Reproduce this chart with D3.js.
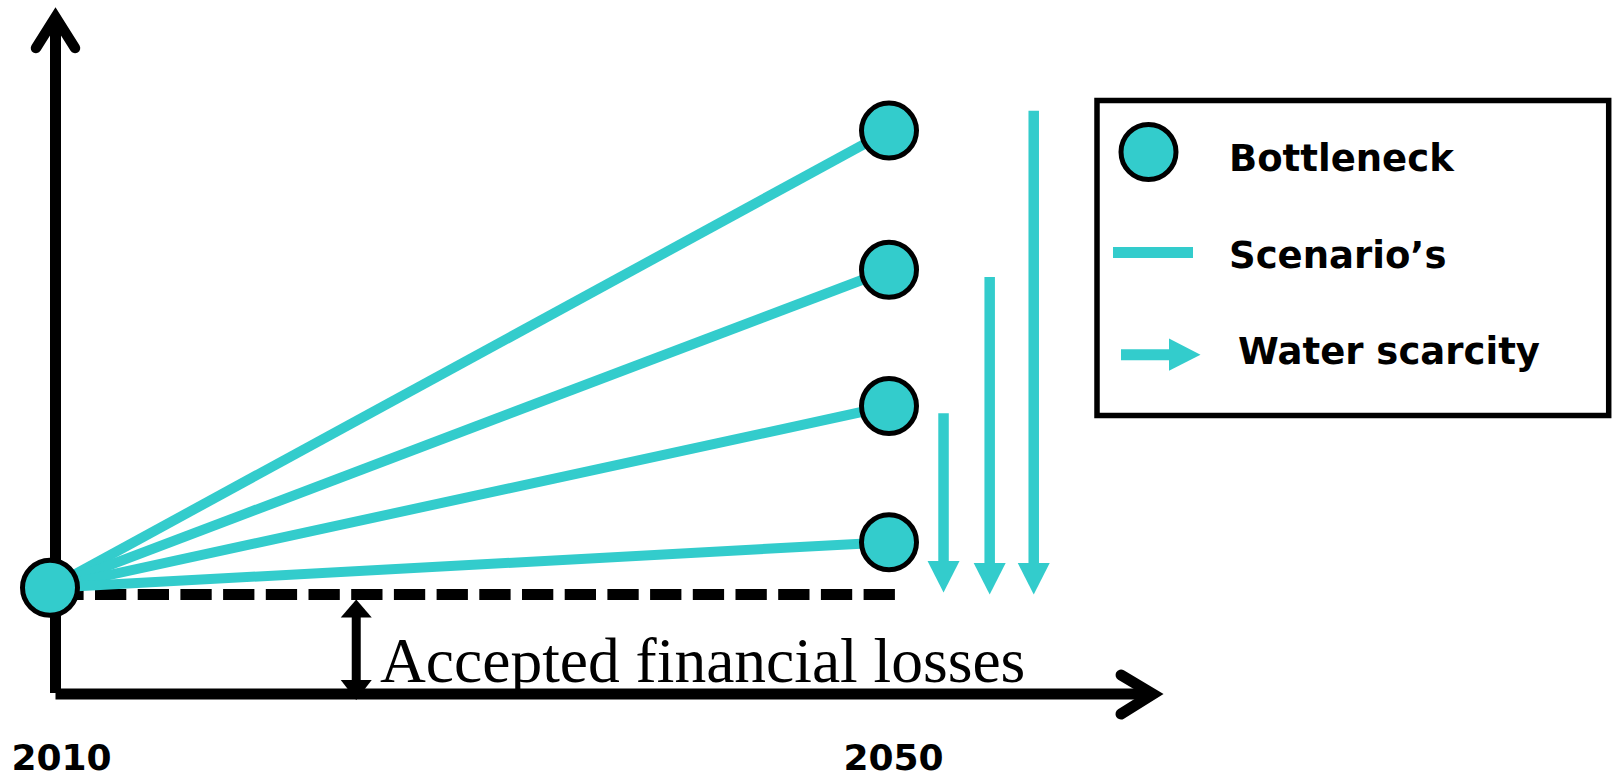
<!DOCTYPE html>
<html><head><meta charset="utf-8">
<script src="https://cdn.jsdelivr.net/npm/d3@7"></script>
<style>html,body{margin:0;padding:0;background:#fff;overflow:hidden}</style>
</head><body>
<svg id="chart" width="1612" height="778"></svg>
<script>
// ---- data ----
const years = [2010, 2050];
const yearLabels = ["2010", "2050"];
const baseline2010 = 17.7;            // bottleneck level in 2010
const acceptedLoss = 16.6;            // accepted financial losses threshold
const scenarios2050 = [93.9, 70.7, 48.0, 25.3];
const scarcityYears = [2052.6, 2054.8, 2056.9];
const scarcityFrom = [46.8, 69.5, 97.2];
const scarcityTo = [16.9, 16.6, 16.6];
const lossArrowYear = 2024.6;
const legendLabels = ["Bottleneck", "Scenario\u2019s", "Water scarcity"];
const annotation = "Accepted financial losses";

// ---- setup ----
const TEAL = "#33CCCC";
const svg = d3.select("#chart");
svg.append("rect").attr("width", 1612).attr("height", 778).attr("fill", "#fff");
const x = d3.scaleLinear().domain([2010, 2050]).range([50, 889]);
const y = d3.scaleLinear().domain([0, 100]).range([694, 94]);

// ---- axes ----
const ax = x(2010) + 5.5, ay = y(0);
svg.append("line").attr("x1", ax).attr("x2", ax).attr("y1", ay - 1).attr("y2", 18)
  .attr("stroke", "#000").attr("stroke-width", 11);
svg.append("path").attr("d", `M${ax - 19.5},48 L${ax},17 L${ax + 19.5},48`)
  .attr("fill", "none").attr("stroke", "#000").attr("stroke-width", 10.5)
  .attr("stroke-linecap", "round").attr("stroke-linejoin", "miter").attr("stroke-miterlimit", 10);
const xEnd = 1153;
svg.append("line").attr("x1", ax).attr("x2", xEnd - 2).attr("y1", ay).attr("y2", ay)
  .attr("stroke", "#000").attr("stroke-width", 11);
svg.append("path").attr("d", `M${xEnd - 32},${ay - 19} L${xEnd},${ay} L${xEnd - 32},${ay + 20}`)
  .attr("fill", "none").attr("stroke", "#000").attr("stroke-width", 11)
  .attr("stroke-linecap", "round").attr("stroke-linejoin", "miter").attr("stroke-miterlimit", 10);

// ---- accepted loss dashed line ----
svg.append("line").attr("x1", x(2010) + 2.3).attr("x2", x(2050) + 6)
  .attr("y1", y(acceptedLoss)).attr("y2", y(acceptedLoss))
  .attr("stroke", "#000").attr("stroke-width", 11).attr("stroke-dasharray", "31.3,11.4");

// ---- double arrow ----
const dax = x(lossArrowYear);
const daTop = y(acceptedLoss) + 5, daBot = y(0) + 6;
svg.append("line").attr("x1", dax).attr("x2", dax).attr("y1", daTop + 15).attr("y2", daBot - 15)
  .attr("stroke", "#000").attr("stroke-width", 9);
svg.append("path").attr("d", `M${dax},${daTop} L${dax + 15.5},${daTop + 18} L${dax - 15.5},${daTop + 18} Z`).attr("fill", "#000");
svg.append("path").attr("d", `M${dax},${daBot} L${dax + 15.5},${daBot - 20} L${dax - 15.5},${daBot - 20} Z`).attr("fill", "#000");

// ---- annotation text ----
svg.append("text").attr("x", 380).attr("y", 681.5)
  .attr("font-family", "'Liberation Serif','Times New Roman',serif").attr("font-size", 63.5)
  .attr("fill", "#000").text(annotation);

// ---- scenario lines ----
svg.append("g").selectAll("line").data(scenarios2050).join("line")
  .attr("x1", x(years[0])).attr("y1", y(baseline2010))
  .attr("x2", x(years[1])).attr("y2", d => y(d))
  .attr("stroke", TEAL).attr("stroke-width", 10);

// ---- bottleneck circles ----
const pts = [{yr: years[0], v: baseline2010}].concat(scenarios2050.map(v => ({yr: years[1], v})));
svg.append("g").selectAll("circle").data(pts).join("circle")
  .attr("cx", d => x(d.yr)).attr("cy", d => y(d.v)).attr("r", 27.5)
  .attr("fill", TEAL).attr("stroke", "#000").attr("stroke-width", 5);

// ---- water scarcity arrows ----
const sc = svg.append("g");
scarcityYears.forEach((yr, i) => {
  const cx = x(yr), top = y(scarcityFrom[i]), tip = y(scarcityTo[i]);
  sc.append("line").attr("x1", cx).attr("x2", cx).attr("y1", top).attr("y2", tip - 30)
    .attr("stroke", TEAL).attr("stroke-width", 10.5);
  sc.append("path").attr("d", `M${cx - 16},${tip - 31.5} L${cx + 16},${tip - 31.5} L${cx},${tip} Z`).attr("fill", TEAL);
});

// ---- year labels ----
svg.append("g").selectAll("text").data(years).join("text")
  .attr("x", (d, i) => x(d) + (i === 0 ? 11.5 : 4.5)).attr("y", 769.5)
  .attr("text-anchor", "middle")
  .attr("font-family", "'DejaVu Sans',Verdana,sans-serif").attr("font-weight", "bold").attr("font-size", 36)
  .attr("fill", "#000").text((d, i) => yearLabels[i]);

// ---- legend ----
const lg = svg.append("g");
lg.append("rect").attr("x", 1097).attr("y", 100.5).attr("width", 511.7).attr("height", 315)
  .attr("fill", "#fff").attr("stroke", "#000").attr("stroke-width", 5.5);
lg.append("circle").attr("cx", 1148.5).attr("cy", 152).attr("r", 27.5)
  .attr("fill", TEAL).attr("stroke", "#000").attr("stroke-width", 5);
lg.append("line").attr("x1", 1113).attr("x2", 1193).attr("y1", 252.5).attr("y2", 252.5)
  .attr("stroke", TEAL).attr("stroke-width", 11);
lg.append("line").attr("x1", 1121).attr("x2", 1171).attr("y1", 354.7).attr("y2", 354.7)
  .attr("stroke", TEAL).attr("stroke-width", 11);
lg.append("path").attr("d", "M1169,338.6 L1200.5,354.7 L1169,370.8 Z").attr("fill", TEAL);
const lgPos = [[1229, 171], [1229, 268.3], [1238, 364.4]];
lg.selectAll("text").data(legendLabels).join("text")
  .attr("x", (d, i) => lgPos[i][0]).attr("y", (d, i) => lgPos[i][1])
  .attr("font-family", "'DejaVu Sans',Verdana,sans-serif").attr("font-weight", "bold").attr("font-size", 37)
  .attr("fill", "#000").text(d => d);
</script>
</body></html>
